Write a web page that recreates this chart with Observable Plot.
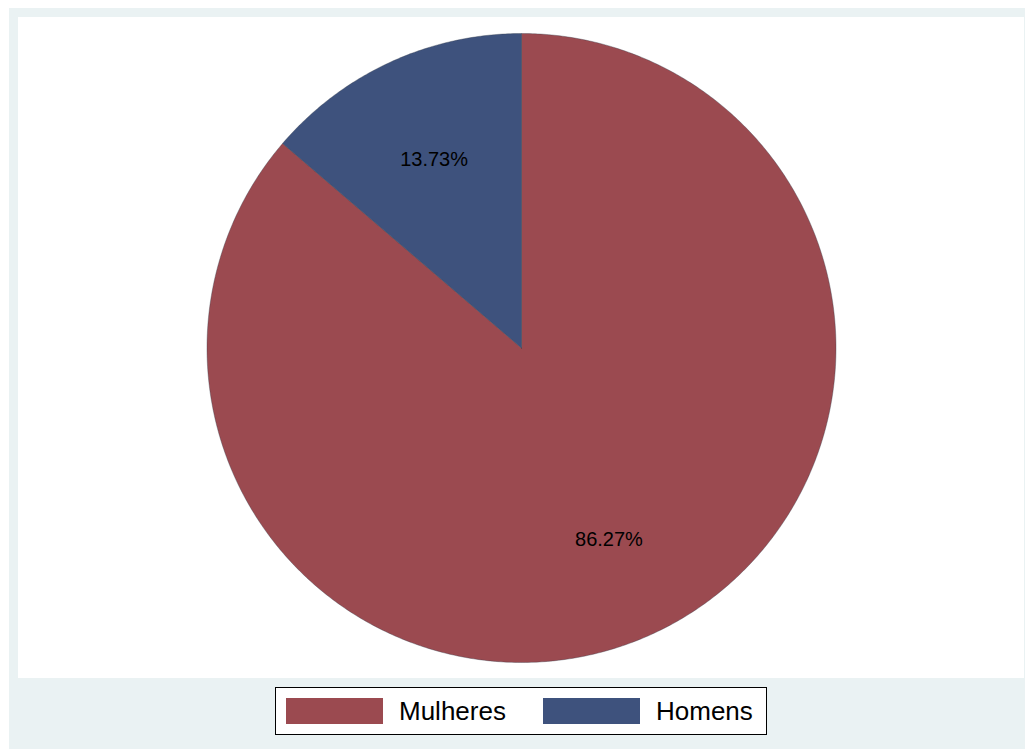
<!DOCTYPE html>
<html>
<head>
<meta charset="utf-8">
<script src="https://cdn.jsdelivr.net/npm/d3@7"></script>
<script src="https://cdn.jsdelivr.net/npm/@observablehq/plot@0.6"></script>
<style>
  html, body { margin: 0; padding: 0; background: #ffffff; width: 1028px; height: 749px; overflow: hidden; }
  body { font-family: "Liberation Sans", Arial, Helvetica, sans-serif; position: relative; }
  #frame { position: absolute; left: 9px; top: 8px; width: 1016px; height: 741px; background: #eaf2f3; }
  #chart { position: absolute; left: 18px; top: 17px; width: 1006px; height: 661px; background: #ffffff; }
  #legend { position: absolute; left: 275px; top: 687px; width: 492px; height: 48px; box-sizing: border-box;
            border: 1px solid #000; background: #fff; }
  .sw { position: absolute; width: 97px; height: 26px; top: 10px; }
  .lb { position: absolute; top: 9px; font-size: 26px; line-height: 28px; color: #000; white-space: nowrap; }
</style>
</head>
<body>
<div id="frame"></div>
<div id="chart"></div>
<div id="legend"></div>
<script>
const categories = ["Mulheres", "Homens"];
const shares = [86.27, 13.73];
const colors = ["#9b4a50", "#3e527d"];
const labels = ["86.27%", "13.73%"];

const pie = d3.pie().sort(null).value(d => d.share).startAngle(0).endAngle(2 * Math.PI);
const rows = categories.map((c, i) => ({category: c, share: shares[i], label: labels[i]}));
const arcs = pie(rows);

// polygon outline of each slice in unit-circle coordinates (y up), clockwise from 12 o'clock
const poly = [];
arcs.forEach(a => {
  poly.push({category: a.data.category, x: 0, y: 0});
  const n = Math.max(2, Math.ceil((a.endAngle - a.startAngle) / (Math.PI / 360)));
  for (let k = 0; k <= n; k++) {
    const t = a.startAngle + (a.endAngle - a.startAngle) * k / n;
    poly.push({category: a.data.category, x: Math.sin(t), y: Math.cos(t)});
  }
  poly.push({category: a.data.category, x: 0, y: 0});
});
const labelPos = arcs.map(a => {
  const m = (a.startAngle + a.endAngle) / 2;
  return {label: a.data.label, x: 0.665 * Math.sin(m), y: 0.665 * Math.cos(m)};
});

const W = 1006, H = 661, R = 314.5;
const mx = W / 2 - R, my = H / 2 - R;
const chart = Plot.plot({
  width: W,
  height: H,
  marginLeft: mx, marginRight: mx, marginTop: my, marginBottom: my,
  x: {domain: [-1, 1], axis: null},
  y: {domain: [-1, 1], axis: null},
  color: {domain: categories, range: colors},
  style: {background: "transparent", fontFamily: "'Liberation Sans', Arial, Helvetica, sans-serif"},
  marks: [
    Plot.line(poly, {x: "x", y: "y", z: "category", fill: "category", stroke: "#333a4a", strokeWidth: 0.6, strokeOpacity: 0.6, curve: "linear"}),
    Plot.text(labelPos, {x: "x", y: "y", text: "label", fontSize: 20, dy: 1.5, fill: "#000"})
  ]
});
document.getElementById("chart").appendChild(chart);

const leg = document.getElementById("legend");
const swX = [10, 267], lbX = [123, 380];
categories.forEach((c, i) => {
  const sw = document.createElement("div");
  sw.className = "sw"; sw.style.left = swX[i] + "px"; sw.style.background = colors[i];
  leg.appendChild(sw);
  const lb = document.createElement("div");
  lb.className = "lb"; lb.style.left = lbX[i] + "px"; lb.textContent = c;
  leg.appendChild(lb);
});
</script>
</body>
</html>
